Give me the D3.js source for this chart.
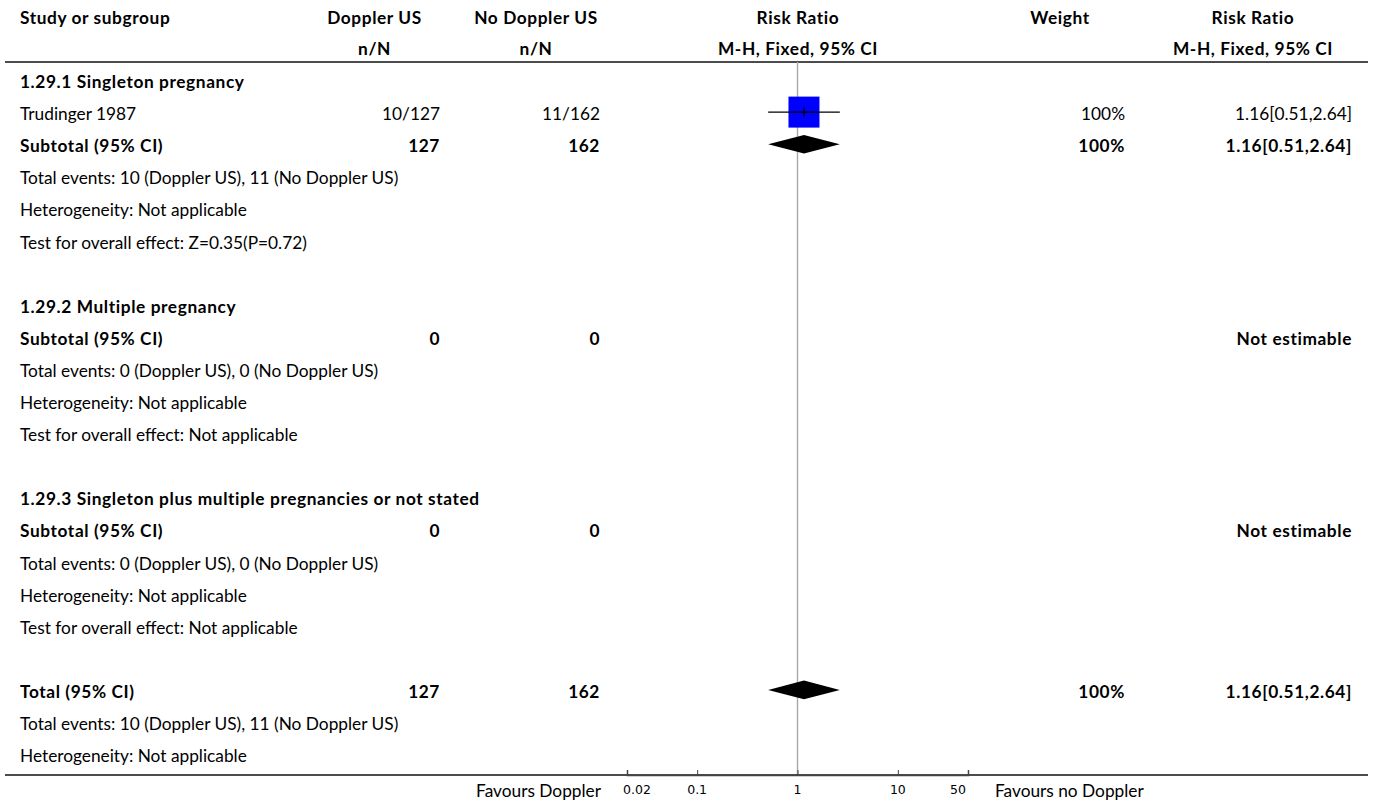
<!DOCTYPE html>
<html>
<head>
<meta charset="utf-8">
<script src="https://cdn.jsdelivr.net/npm/d3@7"></script>
<style>
  html, body { margin: 0; padding: 0; background: #fff; }
  svg text { font-family: Lato, "Noto Sans", sans-serif; font-size: 17.3px; fill: #000; }
  svg text.b { font-weight: 700; letter-spacing: 0.6px; }
</style>
</head>
<body>
<svg id="chart" width="1375" height="802"></svg>
<script>
// ---------------- data ----------------
const headers1 = ["Study or subgroup", "Doppler US", "No Doppler US", "Risk Ratio", "Weight", "Risk Ratio"];
const headers2 = ["", "n/N", "n/N", "M-H, Fixed, 95% CI", "", "M-H, Fixed, 95% CI"];

const rowLabels = [
  "1.29.1 Singleton pregnancy",
  "Trudinger 1987",
  "Subtotal (95% CI)",
  "Total events: 10 (Doppler US), 11 (No Doppler US)",
  "Heterogeneity: Not applicable",
  "Test for overall effect: Z=0.35(P=0.72)",
  "",
  "1.29.2 Multiple pregnancy",
  "Subtotal (95% CI)",
  "Total events: 0 (Doppler US), 0 (No Doppler US)",
  "Heterogeneity: Not applicable",
  "Test for overall effect: Not applicable",
  "",
  "1.29.3 Singleton plus multiple pregnancies or not stated",
  "Subtotal (95% CI)",
  "Total events: 0 (Doppler US), 0 (No Doppler US)",
  "Heterogeneity: Not applicable",
  "Test for overall effect: Not applicable",
  "",
  "Total (95% CI)",
  "Total events: 10 (Doppler US), 11 (No Doppler US)",
  "Heterogeneity: Not applicable"
];
const rowBold = [1,0,1,0,0,0,0,1,1,0,0,0,0,1,1,0,0,0,0,1,0,0];
const dopplerCol   = ["","10/127","127","","","","","","0","","","","","","0","","","","","127","",""];
const noDopplerCol = ["","11/162","162","","","","","","0","","","","","","0","","","","","162","",""];
const weightCol    = ["","100%","100%","","","","","","","","","","","","","","","","","100%","",""];
const rrCol        = ["","1.16[0.51,2.64]","1.16[0.51,2.64]","","","","","","Not estimable","","","","","","Not estimable","","","","","1.16[0.51,2.64]","",""];

// effect marks
const effectRows = [1, 2, 19];
const effectTypes = ["square", "diamond", "diamond"];
const effectRR = [1.16, 1.16, 1.16];
const effectLo = [0.51, 0.51, 0.51];
const effectHi = [2.64, 2.64, 2.64];
const effectWeight = [100, 100, 100];

const axisTicks = [0.02, 0.1, 1, 10, 50];
const axisTickLabels = ["0.02", "0.1", "1", "10", "50"];
const favoursLeft = "Favours Doppler";
const favoursRight = "Favours no Doppler";

// ---------------- layout ----------------
const svg = d3.select("#chart");
const leftX = 20;
const firstRowY = 82, rowStep = 32.1;
const headerLineY = 62, axisY = 775;

const x = d3.scaleLog().domain([0.02, 50]).range([627, 968]);
const y = d3.scaleLinear().domain([0, 1]).range([firstRowY, firstRowY + rowStep]);

const headerX = [leftX, 374.5, 536, 798, 1060, 1253];
const headerAnchor = ["start", "middle", "middle", "middle", "middle", "middle"];
const valueRight = { doppler: 440, nodoppler: 600, weight: 1125, rr: 1352 };

// headers
const hg = svg.append("g");
headers1.forEach((h, i) => {
  hg.append("text").attr("class", "b").attr("x", headerX[i]).attr("y", 24).attr("text-anchor", headerAnchor[i]).text(h);
});
headers2.forEach((h, i) => {
  if (!h) return;
  hg.append("text").attr("class", "b").attr("x", headerX[i]).attr("y", 55).attr("text-anchor", headerAnchor[i]).text(h);
});

// header line
svg.append("line").attr("x1", 5).attr("x2", 1368).attr("y1", headerLineY).attr("y2", headerLineY)
  .attr("stroke", "#111").attr("stroke-width", 1.5);

// null line
svg.append("line").attr("x1", x(1)).attr("x2", x(1)).attr("y1", headerLineY).attr("y2", axisY)
  .attr("stroke", "#a8a8a8").attr("stroke-width", 1.4);

// rows
const rg = svg.append("g");
rowLabels.forEach((lab, i) => {
  const by = y(i) + 6;
  const cls = rowBold[i] ? "b" : null;
  const add = (tx, val, anchor) => {
    if (!val) return;
    rg.append("text").attr("class", cls).attr("x", tx).attr("y", by).attr("text-anchor", anchor).text(val);
  };
  add(leftX, lab, "start");
  add(valueRight.doppler, dopplerCol[i], "end");
  add(valueRight.nodoppler, noDopplerCol[i], "end");
  add(valueRight.weight, weightCol[i], "end");
  add(valueRight.rr, rrCol[i], "end");
});

// effect marks
const size = d3.scaleSqrt().domain([0, 100]).range([0, 31]);
const mg = svg.append("g");
effectRows.forEach((r, k) => {
  const cy = y(r) - 2;
  if (effectTypes[k] === "square") {
    const s = size(effectWeight[k]);
    mg.append("rect").attr("x", x(effectRR[k]) - s / 2).attr("y", cy - s / 2)
      .attr("width", s).attr("height", s).attr("fill", "#0000ff");
    mg.append("line").attr("x1", x(effectLo[k])).attr("x2", x(effectHi[k])).attr("y1", cy).attr("y2", cy)
      .attr("stroke", "#000").attr("stroke-width", 1.4);
    mg.append("line").attr("x1", x(effectRR[k])).attr("x2", x(effectRR[k])).attr("y1", cy - 4.5).attr("y2", cy + 4.5)
      .attr("stroke", "#000").attr("stroke-width", 1.4);
  } else {
    const h = 9.3;
    const pts = [[x(effectLo[k]), cy], [x(effectRR[k]), cy - h], [x(effectHi[k]), cy], [x(effectRR[k]), cy + h]];
    mg.append("path").attr("d", d3.line()(pts) + "Z").attr("fill", "#000");
  }
});

// bottom axis line
svg.append("line").attr("x1", 5).attr("x2", 1368).attr("y1", axisY).attr("y2", axisY)
  .attr("stroke", "#111").attr("stroke-width", 1.5);

const axis = d3.axisTop(x).tickValues(axisTicks).tickSize(5).tickFormat(() => "");
const ag = svg.append("g").attr("transform", `translate(0,${axisY})`).call(axis);
ag.select(".domain").attr("stroke", "#444").attr("stroke-width", 1.5);
ag.selectAll(".tick line").attr("stroke", "#444");

// tick labels (end labels pulled inward like the original)
const tickShift = [10, 0, 0, 0, -10];
axisTicks.forEach((t, i) => {
  svg.append("text").attr("x", x(t) + tickShift[i]).attr("y", 794).attr("text-anchor", "middle")
    .style("font-family", "'DejaVu Sans', sans-serif").style("font-size", "12.5px").text(axisTickLabels[i]);
});

svg.append("text").attr("x", 601).attr("y", 797).attr("text-anchor", "end").text(favoursLeft);
svg.append("text").attr("x", 995).attr("y", 797).attr("text-anchor", "start").text(favoursRight);
</script>
</body>
</html>
